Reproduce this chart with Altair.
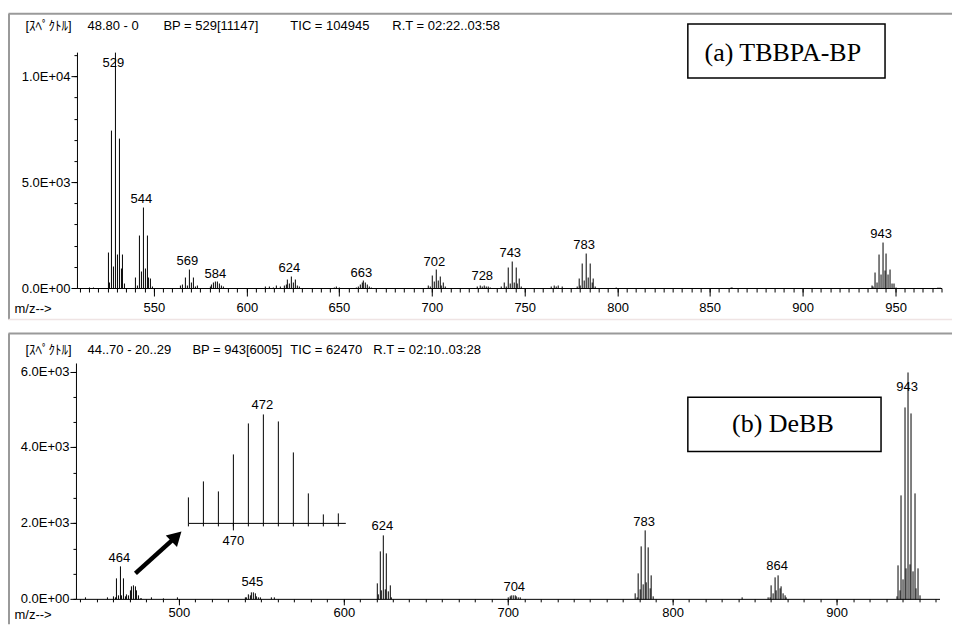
import altair as alt
import pandas as pd

# ---------------- data ----------------
top_mz = [515, 517,
          525, 526, 527, 528, 529, 530, 531, 532, 533, 534,
          540, 541, 542, 543, 544, 545, 546, 547, 548, 549,
          564, 565, 567, 568, 569, 570, 571, 572, 573,
          580, 581, 582, 583, 584, 585, 586, 587,
          610, 612, 614, 616, 618,
          620, 621, 622, 623, 624, 625, 626, 627, 628,
          647, 648, 650,
          659, 660, 661, 662, 663, 664, 665, 666, 667,
          698, 699, 700, 701, 702, 703, 704, 705, 706, 707,
          724, 726, 727, 728, 729, 730, 731,
          737, 739, 740, 741, 742, 743, 744, 745, 746, 747, 748,
          764, 766, 767, 768, 770,
          778, 779, 780, 781, 782, 783, 784, 785, 786, 787, 788,
          799, 861, 862,
          937, 938, 939, 940, 941, 942, 943, 944, 945, 946, 947, 948, 949, 950,
          973, 974]
top_int = [60, 50,
           1715, 300, 7460, 1050, 11147, 1590, 7100, 945, 1605, 250,
           535, 150, 2500, 820, 3840, 930, 2500, 535, 460, 80,
           120, 200, 535, 150, 880, 300, 535, 100, 150,
           100, 200, 280, 320, 330, 250, 150, 80,
           80, 100, 60, 150, 80,
           150, 200, 420, 250, 590, 260, 420, 150, 80,
           60, 80, 70,
           60, 100, 200, 280, 360, 280, 200, 100, 50,
           150, 100, 630, 350, 880, 400, 580, 150, 300, 80,
           80, 130, 100, 150, 110, 100, 60,
           100, 300, 100, 1010, 250, 1290, 300, 1010, 250, 460, 80,
           80, 130, 100, 150, 80,
           80, 460, 150, 1165, 380, 1640, 535, 1165, 300, 460, 100,
           50, 50, 50,
           150, 80, 770, 300, 1605, 660, 2190, 850, 1640, 660, 880, 250, 250, 60,
           50, 50]

bot_mz = [443, 456,
          460, 461, 462, 463, 464, 465, 466,
          467, 468, 469, 470, 471, 472, 473, 474, 475, 476, 477,
          483, 490, 499,
          540, 541, 542, 543, 544, 545, 546, 547, 548, 549,
          556, 558,
          620, 621, 622, 623, 624, 625, 626, 627, 628, 629,
          700, 701, 702, 703, 704, 705, 706, 707,
          777, 778, 779, 780, 781, 782, 783, 784, 785, 786, 787, 788,
          842,
          858, 859, 860, 861, 862, 863, 864, 865, 866, 867, 868, 869,
          936, 937, 938, 939, 940, 941, 942, 943, 944, 945, 946, 947, 948, 949, 950]
bot_int = [40, 40,
           76, 60, 565, 100, 860, 100, 565,
           89, 143, 109, 235, 341, 372, 348, 242, 102, 31, 34,
           40, 30, 50,
           40, 60, 127, 100, 185, 190, 150, 80, 60, 40,
           40, 40,
           413, 120, 1265, 230, 1690, 260, 1215, 200, 372, 50,
           60, 90, 110, 100, 110, 80, 60, 40,
           160, 40, 675, 270, 1410, 400, 1815, 450, 1380, 300, 633, 80,
           50,
           60, 60, 372, 160, 590, 250, 633, 300, 355, 150, 100, 40,
           80, 903, 250, 2740, 520, 5080, 810, 6005, 920, 4900, 750, 2790, 300, 810, 100]

top_label_mz = [529, 544, 569, 584, 624, 663, 702, 728, 743, 783, 943]
top_label_int = [10675, 4251, 1323, 709, 992, 756, 1275, 614, 1700, 2078, 2598]
bot_label_mz = [464, 545, 624, 704, 783, 864, 943]
bot_label_int = [1089, 438, 1916, 329, 2043, 861, 5587]

inset_range = [467, 477]
inset_label_mz = [472]
inset_label_int = [403]

arrow_mz = [473.3, 498.3]
arrow_int = [680, 1660]

top_x_major = [550, 600, 650, 700, 750, 800, 850, 900, 950]
top_x_minor = list(range(510, 976, 5))
top_y_major = [0, 5000, 10000]
top_y_major_labels = ["0.0E+00", "5.0E+03", "1.0E+04"]
top_y_minor = list(range(0, 11001, 1000))

bot_x_major = [500, 600, 700, 800, 900]
bot_x_minor = list(range(440, 961, 10))
bot_y_major = [0, 2000, 4000, 6000]
bot_y_major_labels = ["0.0E+00", "2.0E+03", "4.0E+03", "6.0E+03"]
bot_y_minor = [0, 667, 1333, 2000, 2667, 3333, 4000, 4667, 5333, 6000]

inset_x_ticks = list(range(467, 478))
inset_x_major = [470]

top_header = ["[ｽﾍﾟｸﾄﾙ]", "48.80 - 0", "BP = 529[11147]", "TIC = 104945", "R.T = 02:22..03:58"]
bot_header = ["[ｽﾍﾟｸﾄﾙ]", "44..70 - 20..29", "BP = 943[6005]", "TIC = 62470", "R.T = 02:10..03:28"]
legend_top = "(a) TBBPA-BP"
legend_bot = "(b) DeBB"
axis_word = "m/z-->"

# ---------------- tables ----------------
top_df = pd.DataFrame({"mz": top_mz, "i": top_int, "z": 0})
bot_df = pd.DataFrame({"mz": bot_mz, "i": bot_int, "z": 0})
inset_df = bot_df[(bot_df.mz >= inset_range[0]) & (bot_df.mz <= inset_range[1])]
top_lab = pd.DataFrame({"mz": top_label_mz, "i": top_label_int, "t": [str(v) for v in top_label_mz]})
bot_lab = pd.DataFrame({"mz": bot_label_mz, "i": bot_label_int, "t": [str(v) for v in bot_label_mz]})
inset_lab = pd.DataFrame({"mz": inset_label_mz, "i": inset_label_int, "t": [str(v) for v in inset_label_mz]})
arrow_df = pd.DataFrame({"mz": arrow_mz, "i": arrow_int, "o": [0, 1]})
head_df = arrow_df.iloc[[1]]
dummy = pd.DataFrame({"a": [0]})

# ---------------- styling / layout ----------------
W, H = 944, 616
FONT = "Liberation Sans, Noto Sans CJK JP"
SERIF = "Liberation Serif"


def sc(domain, rng):
    return alt.Scale(domain=domain, range=rng, nice=False, zero=False, round=True)


BOT_BASE, BOT_TOP = 591, 355
top_xs = sc([508.5, 975], [69, 934])
top_ys = sc([0, 11147], [280, 44])
bot_xs = sc([437.4, 962.4], [68, 932])
bot_ys = sc([0, 6230], [BOT_BASE, BOT_TOP])
ins_xs = sc([467, 477.5], [180, 337.5])
ins_ys = sc([0, 400], [515, 515 - 400 * 0.293])

AX = dict(grid=False, title=None, domainColor="black", tickColor="black",
          labelColor="black", labelFont=FONT, labelFontSize=13,
          domainWidth=1, tickWidth=1, labelFlush=False, labelOverlap=False,
          translate=0)


def lab_expr(vals, labs):
    parts = [f"datum.value == {v} ? '{l}'" for v, l in zip(vals, labs)]
    return " : ".join(parts) + " : ''"


def minor_axis(orient, offset, values, size):
    return alt.Axis(orient=orient, offset=offset, values=values, tickSize=size,
                    labels=False, domain=True, **AX)


def major_axis(orient, offset, values, size, pad, expr=None):
    kw = dict(AX)
    if expr is not None:
        kw["labelExpr"] = expr
    return alt.Axis(orient=orient, offset=offset, values=values, tickSize=size,
                    labels=True, domain=False, labelPadding=pad, **kw)


layers = []


def hrule(y, x1, x2, color, w):
    return alt.Chart(dummy).mark_rule(color=color, strokeWidth=w).encode(
        x=alt.value(x1), x2=alt.value(x2), y=alt.value(y))


def vrule(x, y1, y2, color, w):
    return alt.Chart(dummy).mark_rule(color=color, strokeWidth=w).encode(
        x=alt.value(x), y=alt.value(y1), y2=alt.value(y2))


# panel frames
layers += [
    hrule(5, 0, W, "#9a9a9a", 2),
    vrule(0.5, 5, 311, "#9a9a9a", 2),
    hrule(311, 0, W, "#efe4e4", 1.5),
    hrule(325, 0, W, "#9a9a9a", 2),
    vrule(0.5, 325, H, "#9a9a9a", 2),
]

# headers
top_hx = [17, 79, 155, 282, 384]
bot_hx = [17, 79, 184, 282, 365]
for txt, x in zip(top_header, top_hx):
    layers.append(alt.Chart(dummy).mark_text(align="left", baseline="middle", font=FONT,
                                             fontSize=13, color="black").encode(
        x=alt.value(x), y=alt.value(17), text=alt.value(txt)))
for txt, x in zip(bot_header, bot_hx):
    layers.append(alt.Chart(dummy).mark_text(align="left", baseline="middle", font=FONT,
                                             fontSize=13, color="black").encode(
        x=alt.value(x), y=alt.value(342), text=alt.value(txt)))

# m/z labels
for y in (300, 607):
    layers.append(alt.Chart(dummy).mark_text(align="left", baseline="middle", font=FONT,
                                             fontSize=13, color="black").encode(
        x=alt.value(6), y=alt.value(y), text=alt.value(axis_word)))

# ---- top panel ----
layers.append(alt.Chart(top_df).mark_rule(color="black", strokeWidth=1).encode(
    x=alt.X("mz:Q", scale=top_xs, axis=minor_axis("bottom", 280 - H, top_x_minor, 4)),
    y=alt.Y("i:Q", scale=top_ys, axis=minor_axis("left", -69, top_y_minor, 3)),
    y2="z:Q"))
layers.append(alt.Chart(top_lab).mark_text(font=FONT, fontSize=13, color="black",
                                           baseline="middle", dx=-2).encode(
    x=alt.X("mz:Q", scale=top_xs, axis=major_axis("bottom", 280 - H, top_x_major, 8, 5)),
    y=alt.Y("i:Q", scale=top_ys, axis=major_axis("left", -69, top_y_major, 6, 1,
                                                 lab_expr(top_y_major, top_y_major_labels))),
    text="t:N"))

# ---- bottom panel ----
layers.append(alt.Chart(bot_df).mark_rule(color="black", strokeWidth=1).encode(
    x=alt.X("mz:Q", scale=bot_xs, axis=minor_axis("bottom", BOT_BASE - H, bot_x_minor, 3)),
    y=alt.Y("i:Q", scale=bot_ys, axis=minor_axis("left", -68, bot_y_minor, 3)),
    y2="z:Q"))
layers.append(alt.Chart(bot_lab).mark_text(font=FONT, fontSize=13, color="black",
                                           baseline="middle", dx=-1).encode(
    x=alt.X("mz:Q", scale=bot_xs, axis=major_axis("bottom", BOT_BASE - H, bot_x_major, 6, 2)),
    y=alt.Y("i:Q", scale=bot_ys, axis=major_axis("left", -68, bot_y_major, 6, 1,
                                                 lab_expr(bot_y_major, bot_y_major_labels))),
    text="t:N"))

# arrow
layers.append(alt.Chart(arrow_df).mark_line(color="black", strokeWidth=4.5).encode(
    x=alt.X("mz:Q", scale=bot_xs, axis=None),
    y=alt.Y("i:Q", scale=bot_ys, axis=None),
    order="o:Q"))
layers.append(alt.Chart(head_df).mark_point(shape="triangle-up", angle=46, size=260,
                                            filled=True, color="black", opacity=1).encode(
    x=alt.X("mz:Q", scale=bot_xs, axis=None),
    y=alt.Y("i:Q", scale=bot_ys, axis=None)))

# inset
layers.append(alt.Chart(inset_df).mark_rule(color="black", strokeWidth=1).encode(
    x=alt.X("mz:Q", scale=ins_xs, axis=minor_axis("bottom", 515 - H, inset_x_ticks, 3)),
    y=alt.Y("i:Q", scale=ins_ys, axis=None),
    y2="z:Q"))
layers.append(alt.Chart(inset_lab).mark_text(font=FONT, fontSize=13, color="black",
                                             baseline="middle", dx=-1).encode(
    x=alt.X("mz:Q", scale=ins_xs, axis=major_axis("bottom", 515 - H, inset_x_major, 7, 5)),
    y=alt.Y("i:Q", scale=ins_ys, axis=None),
    text="t:N"))

# legend boxes
layers.append(alt.Chart(dummy).mark_rect(fill="white", stroke="black", strokeWidth=1.5).encode(
    x=alt.value(679.7), x2=alt.value(877), y=alt.value(15.3), y2=alt.value(69.3)))
layers.append(alt.Chart(dummy).mark_text(font=SERIF, fontSize=26, color="black",
                                         baseline="middle", align="center").encode(
    x=alt.value(774.7), y=alt.value(44), text=alt.value(legend_top)))
layers.append(alt.Chart(dummy).mark_rect(fill="white", stroke="black", strokeWidth=1.5).encode(
    x=alt.value(679.7), x2=alt.value(873), y=alt.value(388.7), y2=alt.value(443)))
layers.append(alt.Chart(dummy).mark_text(font=SERIF, fontSize=26, color="black",
                                         baseline="middle", align="center").encode(
    x=alt.value(774.8), y=alt.value(416), text=alt.value(legend_bot)))

chart = alt.layer(*layers).resolve_scale(x="independent", y="independent").properties(
    width=W, height=H, autosize=alt.AutoSizeParams(type="none"),
    padding={"left": 0.5, "top": 0.5, "right": 0, "bottom": 0},
    background="white").configure_view(stroke=None)

chart.save("out.html", embed_options={"renderer": "svg", "actions": False})
